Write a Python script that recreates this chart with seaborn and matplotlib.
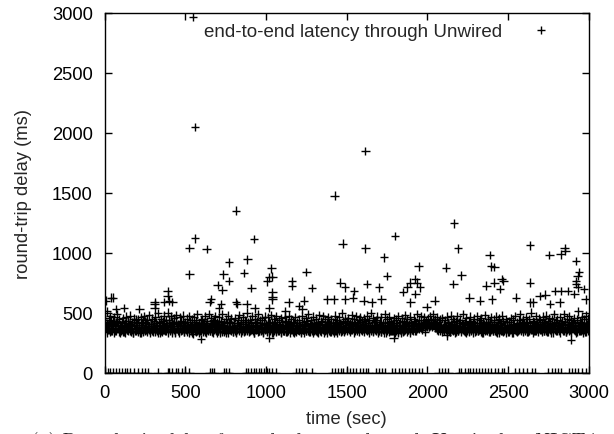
import numpy as np
import pandas as pd
import matplotlib
matplotlib.use("Agg")
import matplotlib.pyplot as plt
import seaborn as sns

# ---------------- data ----------------
# regular sampling grid of the dense band (one probe every 5 s, two interleaved streams)
band_step = 5
band_delay = [
    420, 455, 380, 510, 395, 360, 440, 470, 345, 405, 430, 385, 460, 350, 415, 490, 370, 400, 445, 335,
    390, 425, 360, 455, 340, 410, 380, 465, 355, 430, 400, 345, 475, 385, 420, 335, 450, 395, 365, 440,
    410, 350, 445, 380, 330, 460, 395, 425, 340, 470, 375, 415, 355, 435, 390, 480, 345, 405, 365, 450,
    385, 430, 340, 465, 400, 355, 495, 375, 420, 330, 445, 390, 360, 475, 410, 345, 435, 380, 500, 365,
    440, 395, 470, 350, 425, 385, 455, 335, 415, 480, 370, 405, 345, 460, 390, 430, 355, 475, 400, 340,
    420, 365, 450, 390, 335, 470, 405, 355, 440, 380, 325, 460, 395, 425, 350, 485, 375, 410, 345, 435,
    380, 445, 355, 415, 470, 340, 400, 430, 365, 490, 385, 350, 455, 410, 335, 440, 395, 470, 360, 420,
    350, 405, 460, 375, 430, 340, 485, 395, 420, 360, 445, 330, 410, 475, 380, 425, 355, 450, 390, 340,
    415, 370, 455, 335, 400, 440, 365, 480, 390, 425, 350, 460, 405, 345, 435, 380, 500, 360, 420, 395,
    440, 355, 410, 470, 385, 330, 450, 400, 365, 425, 490, 345, 395, 435, 375, 455, 340, 415, 380, 465,
    400, 345, 460, 390, 425, 355, 480, 370, 415, 335, 445, 395, 360, 470, 405, 350, 435, 385, 455, 340,
    420, 380, 350, 465, 395, 430, 340, 410, 475, 365, 400, 445, 355, 385, 425, 335, 460, 390, 415, 370,
    355, 440, 395, 330, 470, 405, 360, 425, 385, 455, 345, 415, 490, 375, 400, 340, 435, 380, 465, 350,
    410, 375, 450, 340, 420, 395, 480, 355, 430, 365, 405, 470, 335, 445, 390, 355, 420, 460, 375, 400,
    385, 445, 360, 415, 335, 475, 400, 350, 435, 390, 460, 345, 410, 380, 495, 365, 425, 340, 450, 395,
    430, 370, 455, 395, 410, 360, 480, 420, 385, 445, 400, 365, 470, 415, 380, 440, 395, 460, 375, 425,
    405, 450, 365, 430, 390, 475, 355, 415, 440, 380, 495, 400, 345, 455, 420, 370, 435, 390, 465, 350,
    395, 425, 340, 460, 380, 410, 355, 485, 400, 335, 445, 375, 420, 465, 350, 430, 390, 345, 455, 410,
    365, 440, 400, 330, 470, 385, 420, 350, 455, 395, 340, 430, 480, 370, 410, 445, 360, 400, 335, 465,
    420, 355, 395, 450, 375, 430, 345, 490, 405, 365, 440, 385, 470, 355, 415, 395, 460, 340, 425, 380,
    410, 450, 380, 470, 400, 435, 390, 485, 415, 375, 445, 405, 460, 385, 425, 370, 440, 395, 455, 365,
    400, 345, 435, 380, 465, 355, 420, 390, 340, 475, 405, 360, 445, 385, 330, 430, 400, 470, 350, 415,
    375, 440, 355, 410, 490, 365, 425, 340, 455, 395, 370, 430, 345, 465, 405, 380, 420, 335, 450, 390,
    360, 415, 470, 345, 400, 435, 375, 455, 330, 420, 390, 480, 355, 410, 365, 445, 395, 340, 425, 460,
    385, 350, 440, 405, 370, 465, 335, 420, 395, 450, 360, 410, 475, 345, 430, 380, 400, 355, 445, 390,
    340, 425, 375, 455, 395, 330, 440, 400, 365, 470, 385, 415, 350, 435, 405, 485, 360, 420, 380, 445,
    410, 355, 460, 390, 425, 340, 445, 375, 500, 395, 360, 430, 415, 345, 470, 385, 420, 365, 450, 400,
    435, 380, 405, 465, 350, 420, 395, 475, 340, 430, 385, 455, 410, 335, 445, 400, 370, 490, 390, 425,
    365, 440, 395, 345, 460, 410, 375, 430, 355, 485, 400, 420, 340, 450, 380, 470, 405, 360, 435, 395,
    420, 370, 455, 400, 335, 440, 385, 510, 395, 425, 350, 465, 405, 380, 445, 340, 475, 415, 390, 450,
]
band2_offset = 2.5
band2_delay = [
    345, 370, 335, 410, 355, 390, 340, 425, 365, 350, 385, 335, 400, 360, 345, 430, 375, 340, 395, 355,
    350, 380, 340, 400, 365, 335, 415, 355, 390, 345, 370, 405, 340, 360, 385, 335, 420, 350, 375, 345,
    365, 340, 395, 355, 380, 335, 410, 350, 370, 345, 425, 360, 340, 390, 355, 375, 335, 405, 350, 385,
    340, 375, 355, 415, 345, 385, 335, 360, 400, 350, 370, 340, 430, 355, 380, 345, 365, 395, 335, 410,
    360, 345, 390, 335, 405, 355, 375, 340, 420, 365, 350, 385, 335, 400, 345, 370, 355, 415, 340, 380,
    355, 395, 340, 370, 350, 425, 345, 385, 335, 360, 405, 350, 375, 340, 390, 355, 335, 410, 365, 345,
    370, 340, 405, 355, 385, 335, 360, 415, 345, 375, 350, 395, 340, 365, 430, 355, 380, 345, 400, 335,
    345, 385, 360, 335, 400, 350, 375, 340, 410, 365, 345, 390, 355, 335, 420, 370, 350, 385, 340, 365,
    380, 350, 340, 395, 360, 415, 345, 370, 335, 405, 355, 385, 340, 365, 350, 425, 345, 375, 360, 340,
    350, 400, 365, 345, 380, 335, 420, 355, 390, 340, 370, 350, 410, 345, 360, 395, 335, 380, 355, 405,
    365, 340, 385, 355, 410, 345, 370, 335, 395, 360, 350, 425, 340, 380, 355, 345, 400, 365, 335, 390,
    345, 375, 350, 420, 340, 390, 360, 345, 405, 335, 370, 355, 385, 340, 415, 350, 365, 340, 395, 360,
    390, 350, 370, 340, 400, 355, 335, 385, 365, 345, 430, 350, 375, 340, 360, 405, 345, 390, 335, 370,
    355, 410, 345, 380, 335, 365, 395, 350, 340, 420, 360, 375, 345, 400, 355, 335, 385, 350, 415, 340,
    340, 365, 400, 350, 385, 345, 420, 360, 335, 375, 355, 405, 340, 390, 350, 365, 345, 430, 355, 380,
    345, 380, 360, 405, 340, 390, 355, 370, 335, 415, 350, 385, 345, 365, 400, 340, 375, 355, 420, 350,
    365, 340, 395, 355, 375, 345, 410, 335, 385, 360, 350, 400, 340, 370, 355, 425, 345, 380, 335, 390,
    350, 405, 340, 370, 360, 390, 335, 415, 355, 345, 380, 365, 340, 395, 350, 375, 345, 410, 360, 335,
    385, 345, 365, 340, 400, 355, 375, 335, 420, 350, 390, 345, 360, 405, 340, 370, 355, 385, 345, 395,
    360, 390, 350, 375, 345, 410, 365, 385, 370, 395, 380, 405, 375, 390, 385, 400, 380, 410, 390, 395,
    395, 380, 410, 390, 400, 385, 420, 395, 405, 380, 375, 360, 395, 350, 370, 345, 385, 360, 340, 375,
    345, 395, 355, 370, 335, 410, 350, 380, 340, 400, 365, 345, 425, 355, 375, 340, 390, 360, 345, 380,
    370, 340, 385, 355, 405, 345, 365, 335, 395, 350, 380, 340, 415, 360, 345, 390, 355, 370, 340, 400,
    350, 380, 345, 415, 355, 370, 340, 395, 360, 335, 405, 350, 385, 345, 365, 425, 340, 375, 355, 390,
    365, 345, 400, 350, 375, 340, 390, 355, 335, 410, 365, 345, 380, 340, 395, 350, 370, 335, 420, 355,
    340, 385, 355, 370, 345, 405, 335, 380, 360, 350, 395, 340, 375, 355, 415, 345, 365, 390, 340, 370,
    375, 350, 410, 340, 385, 360, 345, 400, 355, 370, 335, 420, 350, 380, 345, 365, 395, 340, 375, 355,
    355, 395, 340, 375, 350, 415, 345, 365, 390, 340, 380, 355, 405, 345, 370, 335, 400, 360, 385, 345,
    345, 370, 390, 355, 335, 405, 365, 345, 380, 350, 420, 340, 375, 360, 395, 345, 385, 355, 340, 410,
    380, 355, 345, 400, 365, 340, 390, 350, 375, 345, 415, 360, 335, 395, 355, 385, 340, 405, 370, 350,
]

# sparse higher samples and spikes: (time s, delay ms)
spike_time = [
    548, 560, 1615, 1425, 815, 2165, 560, 925, 1800, 1475, 2635, 2850, 525, 632, 1615, 2190,
    525, 770, 885, 735, 865, 772, 700, 730, 910, 1033, 1020, 1008, 1040, 1040, 1040, 1160, 1162,
    1250, 1285, 1460, 1490, 390, 390, 400, 370, 420, 40, 50, 10, 310, 660, 650, 813, 1040, 1140,
    1235, 1380, 1420, 1490, 70, 120, 215, 310, 310, 710, 720, 820, 880, 930, 1020, 1120, 1205, 1225,
    1730, 1750, 1625, 1700, 1545, 1540, 1605, 1655, 1715, 1850, 1875, 1895, 1925, 1935, 1945, 1925,
    1955, 1895, 2045, 1995, 2115, 2210, 2160, 2385, 2395, 2415, 2460, 2470, 2415, 2365, 2450, 2260,
    2400, 2325, 2550, 2635, 2695, 2755, 2825, 2855, 2920, 2940, 2930, 2920, 2920, 2930, 2970, 2790,
    2830, 2870, 2910, 2980, 2820, 2760, 2730, 2635, 2655, 2890, 597, 1020, 2120, 1790,
]
spike_delay = [
    2970, 2050, 1850, 1475, 1350, 1245, 1120, 1115, 1140, 1075, 1060, 1040, 1040, 1030, 1035, 1035,
    820, 920, 945, 820, 830, 765, 730, 690, 705, 870, 795, 760, 800, 670, 630, 765, 725,
    840, 705, 750, 710, 680, 640, 600, 590, 590, 625, 625, 600, 585, 610, 590, 585, 610, 585,
    600, 610, 610, 610, 530, 540, 530, 535, 570, 535, 570, 570, 570, 535, 540, 510, 555, 530,
    960, 805, 740, 710, 680, 625, 600, 585, 610, 670, 710, 750, 780, 750, 885, 655,
    710, 585, 600, 545, 875, 810, 740, 980, 885, 880, 780, 765, 750, 725, 695, 625,
    610, 600, 625, 750, 640, 980, 985, 1015, 930, 840, 805, 765, 740, 710, 695, 680,
    680, 680, 655, 610, 585, 570, 650, 585, 585, 275, 280, 290, 310, 290,
]

# lost probes plotted at 0 ms
lost_time = [
    5, 20, 35, 50, 70, 90, 105, 125, 140, 160, 185, 205, 230, 250, 270, 329,
    390, 400, 420, 440, 455, 480, 500, 525, 650, 665, 680, 740, 755, 770,
    875, 890, 905, 925, 940, 955, 970, 990, 1005, 1020, 1035, 1060,
    1185, 1205, 1225, 1245, 1286, 1410, 1425, 1445, 1465, 1480, 1500,
    1520, 1540, 1560, 1580, 1600, 1620, 1635, 1680, 1700, 1720, 1735,
    1780, 1800, 1825, 1845, 1860, 1885, 1905, 1925, 1945, 1965,
    2070, 2090, 2110, 2130, 2195, 2210, 2230, 2250, 2265, 2285, 2300, 2320,
    2340, 2355, 2375, 2395, 2420, 2440, 2460, 2475, 2545, 2570, 2595, 2620,
    2645, 2665, 2750, 2770, 2790, 2810, 2830, 2875, 2895, 2915, 2935, 2955, 2980,
]

series_name = "end-to-end latency through Unwired"
x_ticks = [0, 500, 1000, 1500, 2000, 2500, 3000]
y_ticks = [0, 500, 1000, 1500, 2000, 2500, 3000]
caption = "(a) Round-trip delay from the laptop through Unwired to NICTA"

# ---------------- assemble ----------------
band_time = np.arange(len(band_delay)) * band_step
band2_time = np.arange(len(band2_delay)) * band_step + band2_offset
df = pd.DataFrame({
    "time": np.concatenate([band_time, band2_time, spike_time, lost_time]),
    "delay": np.concatenate([band_delay, band2_delay, spike_delay,
                             np.zeros(len(lost_time))]),
})
df["series"] = series_name

# ---------------- plot ----------------
sns.set_theme(style="ticks")
plt.rcParams["font.family"] = ["Liberation Sans", "DejaVu Sans"]
FS = 13.2

fig = plt.figure(figsize=(6.14, 4.35), dpi=100)
ax = fig.add_axes([104.6 / 614, (435 - 373.5) / 435, 484.2 / 614, 359.5 / 435])

sns.scatterplot(data=df, x="time", y="delay", hue="series", palette=["black"],
                marker="+", s=38, linewidth=1.0, ax=ax, legend=True)

ax.set_xlim(0, 3000)
ax.set_ylim(0, 3000)
ax.set_xticks(x_ticks)
ax.set_yticks(y_ticks)
ax.set_xticklabels([str(v) for v in x_ticks], fontsize=FS)
ax.set_yticklabels([str(v) for v in y_ticks], fontsize=FS)
ax.tick_params(direction="in", length=5, width=1, top=True, right=True,
               colors="black")
ax.tick_params(axis="x", pad=8.0)
ax.tick_params(axis="y", pad=8.5)
for sp in ax.spines.values():
    sp.set_visible(True)
    sp.set_color("black")
    sp.set_linewidth(1.0)

ax.set_xlabel("time (sec)", fontsize=FS, labelpad=7)
ax.set_ylabel("round-trip delay (ms)", fontsize=FS, labelpad=14)

h, l = ax.get_legend_handles_labels()
leg = ax.legend(h, l, loc="upper right", bbox_to_anchor=(0.955, 0.993),
                frameon=False, markerfirst=False, fontsize=FS + 0.3,
                handletextpad=1.05, borderaxespad=0.0)

fig.text(316 / 614, 1 - 432 / 435, caption, fontsize=14.2,
         family=["cmr10", "DejaVu Serif"], va="top", ha="center")

fig.savefig("out.png", dpi=100)
